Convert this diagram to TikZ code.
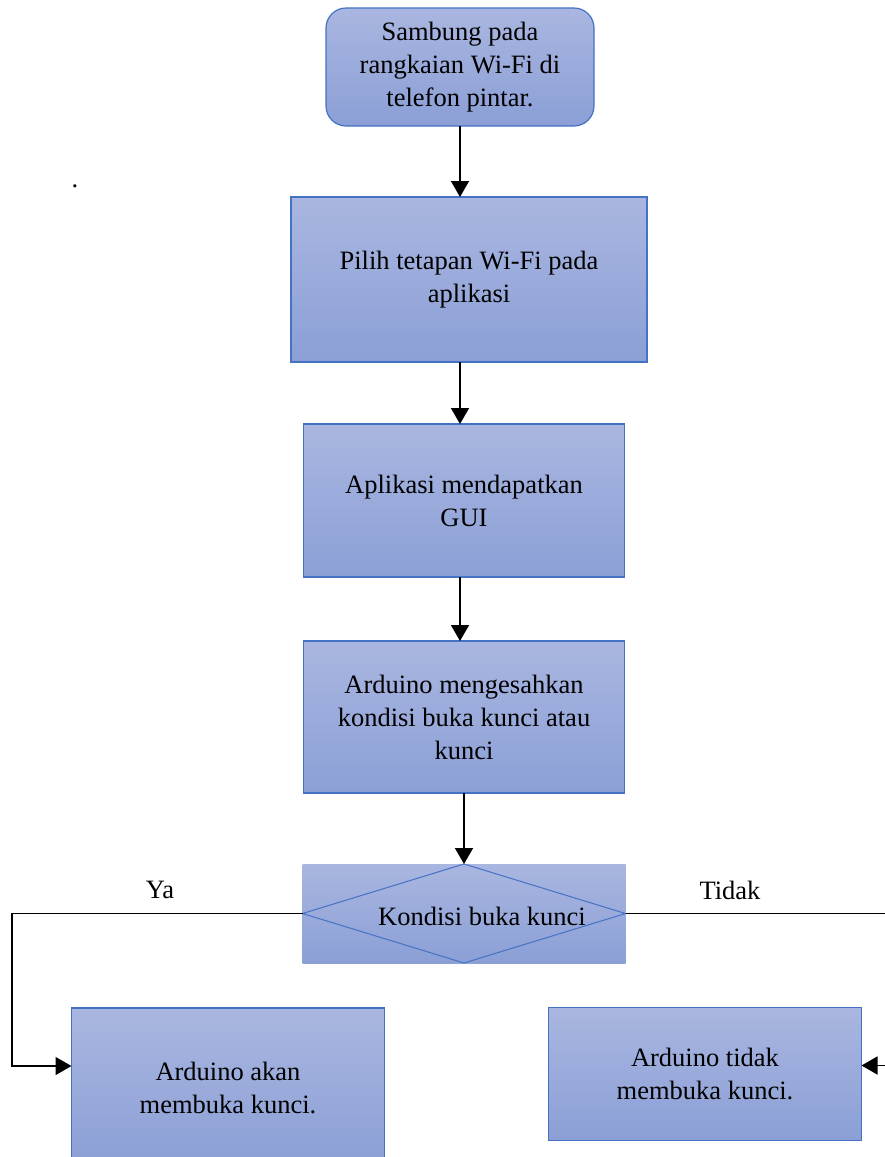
\documentclass[tikz,border=0pt]{standalone}
\usepackage{fontspec}
\setmainfont{Liberation Serif}
\usetikzlibrary{arrows.meta,positioning}

\definecolor{boxtop}{RGB}{169,182,224}
\definecolor{boxbot}{RGB}{139,159,214}
\definecolor{boxline}{RGB}{68,114,196}

\tikzset{
  box/.style={rectangle,top color=boxtop,bottom color=boxbot,draw=boxline,line width=1.2pt,
              outer sep=0pt,align=center,font=\fontsize{26.5}{33}\selectfont},
  startbox/.style={box,rounded corners=20pt,minimum width=268pt,minimum height=118pt},
  decbox/.style={box,draw=none,minimum width=323pt,minimum height=99pt},
  lbl/.style={font=\fontsize{26.5}{33}\selectfont}
}

\begin{document}
\begin{tikzpicture}[x=1pt,y=-1pt,>={Triangle[width=18pt,length=16pt]},line width=1.5pt]
  \useasboundingbox (0,0) rectangle (884,1157);

  \node[startbox] (S) at (460,67)                                           {Sambung pada\\rangkaian Wi-Fi di\\telefon pintar.};
  \node[box,minimum width=356pt,minimum height=165pt] (W) [below=71pt of S,xshift=9pt] {Pilih tetapan Wi-Fi pada\\aplikasi};
  \node[box,minimum width=321pt,minimum height=153pt] (G) [below=62pt of W,xshift=-5pt] {Aplikasi mendapatkan\\GUI};
  \node[box,minimum width=321pt,minimum height=152pt] (A) [below=64pt of G] {Arduino mengesahkan\\kondisi buka kunci atau\\kunci};
  \node[decbox] (K) [below=71pt of A] {};
  \node[box,minimum width=313pt,minimum height=160pt] (Y) at (228,1088) {Arduino akan\\membuka kunci.};
  \node[box,minimum width=313pt,minimum height=133pt] (N) at (705,1074) {Arduino tidak\\membuka kunci.};

  % diamond inside the decision box
  \draw[boxline,line width=1pt] (K.north) -- (K.east) -- (K.south) -- (K.west) -- cycle;
  \node[lbl] at ([xshift=18pt,yshift=-3pt]K.center) {Kondisi buka kunci};

  \node[lbl] (dot)   at (75,186)  {.};
  \node[lbl] (ya)    at (160,890) {Ya};
  \node[lbl] (tidak) at (730,890) {Tidak};

  \coordinate (ycorner) at (12,913);
  \coordinate (ncorner) at (890,913);
  \coordinate (yin) at ([yshift=-58pt]Y.north west);
  \coordinate (nin) at ([yshift=-58pt]N.north east);

  \path[->] (S) edge (S |- W.north)
            (S |- W.south) edge (S |- G.north)
            (S |- G.south) edge (S |- A.north)
            (A) edge (K);
  \draw[->] (K.west) -- (K.west -| ycorner) |- (yin);
  \draw[->] (K.east) -- (K.east -| ncorner) |- (nin);
\end{tikzpicture}
\end{document}
